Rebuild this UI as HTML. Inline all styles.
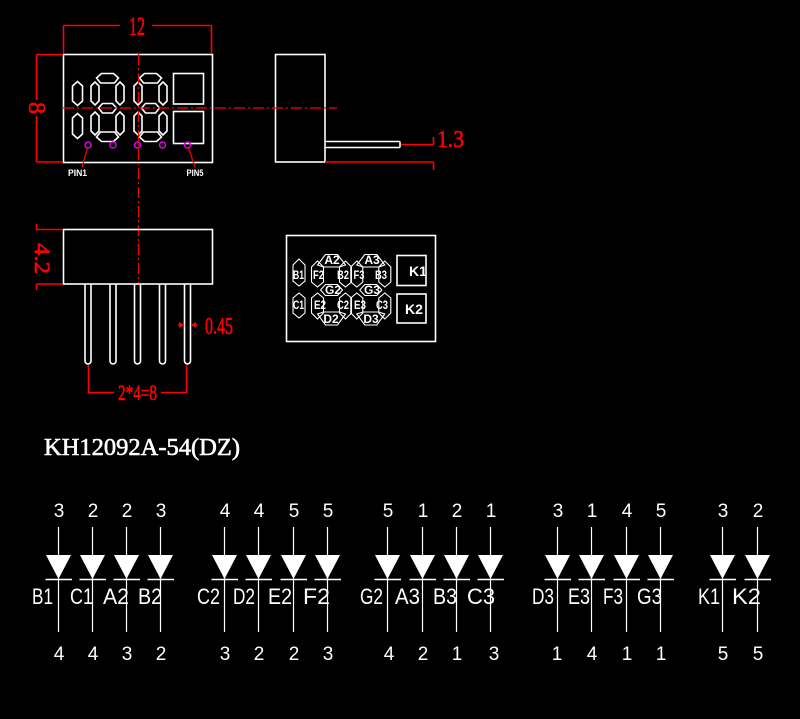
<!DOCTYPE html>
<html><head><meta charset="utf-8"><style>
html,body{margin:0;padding:0;background:#000;}
svg{display:block;}
</style></head><body>
<svg width="800" height="719" viewBox="0 0 800 719" xmlns="http://www.w3.org/2000/svg">
<rect x="0" y="0" width="800" height="719" fill="#000"/>

<!-- ===== TOP VIEW ===== -->
<g fill="none" stroke="#fff" stroke-width="1.6">
  <rect x="63.5" y="54.5" width="149" height="108"/>
  <polygon points="77.5,81.5 82.5,86 82.5,101 77.5,105.5 72.5,101 72.5,86"/>
  <polygon points="77.5,113.5 82.5,118 82.5,134 77.5,138.5 72.5,134 72.5,118"/>
  <g transform="translate(107.5,0)">
    <polygon points="-11,78 -6,73.5 6,73.5 11,78 7,83 -7,83"/>
    <polygon points="-12.5,82 -8.5,86 -8.5,101 -12.5,105 -16.5,101 -16.5,86"/>
    <polygon points="12.5,82 16.5,86 16.5,101 12.5,105 8.5,101 8.5,86"/>
    <polygon points="-9,108 -5,103.5 5,103.5 9,108 5,113 -5,113"/>
    <polygon points="-12.5,112 -8.5,116 -8.5,131 -12.5,135 -16.5,131 -16.5,116"/>
    <polygon points="12.5,112 16.5,116 16.5,131 12.5,135 8.5,131 8.5,116"/>
    <polygon points="-11,137 -7,132 7,132 11,137 6,141.5 -6,141.5"/>
  </g>
  <g transform="translate(150.5,0)">
    <polygon points="-11,78 -6,73.5 6,73.5 11,78 7,83 -7,83"/>
    <polygon points="-12.5,82 -8.5,86 -8.5,101 -12.5,105 -16.5,101 -16.5,86"/>
    <polygon points="12.5,82 16.5,86 16.5,101 12.5,105 8.5,101 8.5,86"/>
    <polygon points="-9,108 -5,103.5 5,103.5 9,108 5,113 -5,113"/>
    <polygon points="-12.5,112 -8.5,116 -8.5,131 -12.5,135 -16.5,131 -16.5,116"/>
    <polygon points="12.5,112 16.5,116 16.5,131 12.5,135 8.5,131 8.5,116"/>
    <polygon points="-11,137 -7,132 7,132 11,137 6,141.5 -6,141.5"/>
  </g>
  <rect x="173.5" y="73.5" width="30" height="30.5"/>
  <rect x="173.5" y="111.5" width="30" height="32"/>
</g>
<g fill="none" stroke="#e000e0" stroke-width="1.5">
  <circle cx="88" cy="145" r="3"/>
  <circle cx="113" cy="145" r="3"/>
  <circle cx="137.5" cy="145" r="3"/>
  <circle cx="162.5" cy="145" r="3"/>
  <circle cx="187.5" cy="145" r="3"/>
</g>
<g stroke="#f00" stroke-width="1.2">
  <line x1="87.5" y1="148" x2="82" y2="167"/>
  <line x1="188.5" y1="148" x2="195" y2="167"/>
</g>
<g fill="#fff" font-family="Liberation Sans, sans-serif" font-weight="bold" font-size="9">
  <text x="68" y="176" textLength="19" lengthAdjust="spacingAndGlyphs">PIN1</text>
  <text x="186.5" y="176" textLength="17" lengthAdjust="spacingAndGlyphs">PIN5</text>
</g>

<g stroke="#f00" stroke-width="1.6" fill="none">
  <line x1="63.5" y1="25.5" x2="63.5" y2="54"/>
  <line x1="211.5" y1="25.5" x2="211.5" y2="54"/>
  <line x1="63.5" y1="25.5" x2="120" y2="25.5"/>
  <line x1="152" y1="25.5" x2="211.5" y2="25.5"/>
  <line x1="36.5" y1="54.5" x2="63" y2="54.5"/>
  <line x1="36.5" y1="162" x2="63" y2="162"/>
  <line x1="36.5" y1="54.5" x2="36.5" y2="100"/>
  <line x1="36.5" y1="116" x2="36.5" y2="162"/>
</g>
<g fill="#f00" stroke="#f00" stroke-width="0.6" font-family="Liberation Serif, serif">
  <text x="129" y="35" font-size="26" textLength="16" lengthAdjust="spacingAndGlyphs">12</text>
  <text transform="translate(29,108) rotate(90)" x="0" y="0" font-size="24" text-anchor="middle">8</text>
</g>

<!-- ===== SIDE VIEW ===== -->
<g fill="none" stroke="#fff" stroke-width="1.6">
  <rect x="275.5" y="54.5" width="49.5" height="107.5"/>
  <line x1="325" y1="141.5" x2="400" y2="141.5"/>
  <line x1="325" y1="147.5" x2="400" y2="147.5"/>
  <line x1="400" y1="141.5" x2="400" y2="147.5"/>
</g>
<g stroke="#f00" stroke-width="1.6" fill="none">
  <line x1="401" y1="144.5" x2="433.5" y2="144.5"/>
  <line x1="433.5" y1="137" x2="433.5" y2="144.5"/>
  <line x1="325" y1="162" x2="433.5" y2="162"/>
  <line x1="433.5" y1="162" x2="433.5" y2="170"/>
</g>
<text x="437" y="147" fill="#f00" stroke="#f00" stroke-width="0.6" font-family="Liberation Serif, serif" font-size="24" textLength="27" lengthAdjust="spacingAndGlyphs">1.3</text>

<g stroke="#f00" stroke-width="1.3" fill="none" stroke-dasharray="11 3 2 3">
  <line x1="63" y1="108" x2="337" y2="108"/>
  <line x1="138.5" y1="54" x2="138.5" y2="285"/>
</g>

<!-- ===== BOTTOM VIEW ===== -->
<g fill="none" stroke="#fff" stroke-width="1.6">
  <rect x="63.5" y="229.5" width="149" height="54.5"/>
  <path d="M85,284 V361 A3,3 0 0 0 91,361 V284"/>
  <path d="M110,284 V361 A3,3 0 0 0 116,361 V284"/>
  <path d="M134.5,284 V361 A3,3 0 0 0 140.5,361 V284"/>
  <path d="M159.5,284 V361 A3,3 0 0 0 165.5,361 V284"/>
  <path d="M184.5,284 V361 A3,3 0 0 0 190.5,361 V284"/>
</g>
<g stroke="#f00" stroke-width="1.6" fill="none">
  <line x1="36.5" y1="229.5" x2="63" y2="229.5"/>
  <line x1="36.5" y1="284" x2="63" y2="284"/>
  <line x1="36.5" y1="224" x2="36.5" y2="230"/>
  <line x1="36.5" y1="284" x2="36.5" y2="290"/>
  <line x1="178" y1="325" x2="184" y2="325"/>
  <line x1="191" y1="325" x2="197" y2="325"/>
  <line x1="88.5" y1="365" x2="88.5" y2="393"/>
  <line x1="186.5" y1="365" x2="186.5" y2="393"/>
  <line x1="88.5" y1="392.5" x2="114" y2="392.5"/>
  <line x1="161" y1="392.5" x2="186.5" y2="392.5"/>
</g>
<g fill="#f00">
  <polygon points="184,325 179,322 179,328"/>
  <polygon points="191,325 196,322 196,328"/>
</g>
<g fill="#f00" stroke="#f00" stroke-width="0.6" font-family="Liberation Serif, serif">
  <text transform="translate(35,243) rotate(90)" x="0" y="0" font-size="22" textLength="31" lengthAdjust="spacingAndGlyphs">4.2</text>
  <text x="205" y="334" font-size="24" textLength="28" lengthAdjust="spacingAndGlyphs">0.45</text>
  <text x="118" y="400" font-size="22" textLength="39" lengthAdjust="spacingAndGlyphs">2*4=8</text>
</g>

<!-- ===== SEGMENT DIAGRAM ===== -->
<g fill="none" stroke="#fff" stroke-width="1.6">
  <rect x="286.5" y="235.5" width="149" height="106"/>
  <rect x="397" y="255.5" width="29" height="30"/>
  <rect x="397" y="294" width="29" height="29"/>
</g>
<g fill="none" stroke="#fff" stroke-width="1.1">
  <polygon points="299,259 305,265 305,281 299,286 293,281 293,265"/>
  <polygon points="299,293 305,298 305,313 299,318 293,313 293,298"/>
  <g transform="translate(331.5,0)">
    <polygon points="-14,265 -6,254.5 6,254.5 14,265 8,267 -8,267"/>
    <polygon points="-14,261 -8,267 -8,282 -14,287 -20,282 -20,267"/>
    <polygon points="14,261 20,267 20,282 14,287 8,282 8,267"/>
    <polygon points="-11,290 -6,284.5 6,284.5 11,290 6,295.5 -6,295.5"/>
    <polygon points="-14,293 -8,298 -8,313 -14,319 -20,313 -20,298"/>
    <polygon points="14,293 20,298 20,313 14,319 8,313 8,298"/>
    <polygon points="-14,314 -8,312 8,312 14,314 6,325 -6,325"/>
  </g>
  <g transform="translate(370.8,0)">
    <polygon points="-14,265 -6,254.5 6,254.5 14,265 8,267 -8,267"/>
    <polygon points="-14,261 -8,267 -8,282 -14,287 -20,282 -20,267"/>
    <polygon points="14,261 20,267 20,282 14,287 8,282 8,267"/>
    <polygon points="-11,290 -6,284.5 6,284.5 11,290 6,295.5 -6,295.5"/>
    <polygon points="-14,293 -8,298 -8,313 -14,319 -20,313 -20,298"/>
    <polygon points="14,293 20,298 20,313 14,319 8,313 8,298"/>
    <polygon points="-14,314 -8,312 8,312 14,314 6,325 -6,325"/>
  </g>
</g>
<g fill="#fff" font-family="Liberation Sans, sans-serif" font-weight="bold" font-size="12" text-anchor="middle">
  <text x="332" y="264">A2</text>
  <text x="372" y="264">A3</text>
  <text x="298.5" y="279" textLength="11" lengthAdjust="spacingAndGlyphs">B1</text>
  <text x="318.5" y="279" textLength="11" lengthAdjust="spacingAndGlyphs">F2</text>
  <text x="343" y="279" textLength="12" lengthAdjust="spacingAndGlyphs">B2</text>
  <text x="359" y="279" textLength="11" lengthAdjust="spacingAndGlyphs">F3</text>
  <text x="381" y="279" textLength="12" lengthAdjust="spacingAndGlyphs">B3</text>
  <text x="333" y="294">G2</text>
  <text x="372" y="294">G3</text>
  <text x="298.5" y="309" textLength="11" lengthAdjust="spacingAndGlyphs">C1</text>
  <text x="320" y="309" textLength="12" lengthAdjust="spacingAndGlyphs">E2</text>
  <text x="343" y="309" textLength="12" lengthAdjust="spacingAndGlyphs">C2</text>
  <text x="360" y="309" textLength="12" lengthAdjust="spacingAndGlyphs">E3</text>
  <text x="382" y="309" textLength="12" lengthAdjust="spacingAndGlyphs">C3</text>
  <text x="331" y="323">D2</text>
  <text x="371" y="323">D3</text>
</g>
<g fill="#fff" font-family="Liberation Sans, sans-serif" font-weight="bold" font-size="14">
  <text x="409" y="276">K1</text>
  <text x="405" y="314">K2</text>
</g>

<!-- ===== TITLE ===== -->
<text x="44" y="455" fill="#fff" stroke="#fff" stroke-width="0.6" font-family="Liberation Serif, serif" font-size="24" textLength="196" lengthAdjust="spacingAndGlyphs">KH12092A-54(DZ)</text>

<!-- ===== DIODES ===== -->
<g stroke="#fff" stroke-width="1.2">
  <line x1="58.5" y1="527" x2="58.5" y2="632"/>
  <line x1="92.5" y1="527" x2="92.5" y2="632"/>
  <line x1="126.5" y1="527" x2="126.5" y2="632"/>
  <line x1="160.5" y1="527" x2="160.5" y2="632"/>
  <line x1="224.5" y1="527" x2="224.5" y2="632"/>
  <line x1="258.5" y1="527" x2="258.5" y2="632"/>
  <line x1="293.5" y1="527" x2="293.5" y2="632"/>
  <line x1="327.5" y1="527" x2="327.5" y2="632"/>
  <line x1="387.5" y1="527" x2="387.5" y2="632"/>
  <line x1="422.5" y1="527" x2="422.5" y2="632"/>
  <line x1="456.5" y1="527" x2="456.5" y2="632"/>
  <line x1="490.5" y1="527" x2="490.5" y2="632"/>
  <line x1="557.5" y1="527" x2="557.5" y2="632"/>
  <line x1="591.5" y1="527" x2="591.5" y2="632"/>
  <line x1="626.5" y1="527" x2="626.5" y2="632"/>
  <line x1="660.5" y1="527" x2="660.5" y2="632"/>
  <line x1="722.5" y1="527" x2="722.5" y2="632"/>
  <line x1="757.5" y1="527" x2="757.5" y2="632"/>
</g>
<g fill="#fff">
  <polygon points="46,555 71,555 58.5,579"/>
  <polygon points="80,555 105,555 92.5,579"/>
  <polygon points="114,555 139,555 126.5,579"/>
  <polygon points="148,555 173,555 160.5,579"/>
  <polygon points="212,555 237,555 224.5,579"/>
  <polygon points="246,555 271,555 258.5,579"/>
  <polygon points="281,555 306,555 293.5,579"/>
  <polygon points="315,555 340,555 327.5,579"/>
  <polygon points="375,555 400,555 387.5,579"/>
  <polygon points="410,555 435,555 422.5,579"/>
  <polygon points="444,555 469,555 456.5,579"/>
  <polygon points="478,555 503,555 490.5,579"/>
  <polygon points="545,555 570,555 557.5,579"/>
  <polygon points="579,555 604,555 591.5,579"/>
  <polygon points="614,555 639,555 626.5,579"/>
  <polygon points="648,555 673,555 660.5,579"/>
  <polygon points="710,555 735,555 722.5,579"/>
  <polygon points="745,555 770,555 757.5,579"/>
</g>
<g stroke="#fff" stroke-width="1.5">
  <line x1="45.5" y1="579.5" x2="72" y2="579.5"/>
  <line x1="79.5" y1="579.5" x2="106" y2="579.5"/>
  <line x1="113.5" y1="579.5" x2="140" y2="579.5"/>
  <line x1="147.5" y1="579.5" x2="174" y2="579.5"/>
  <line x1="211.5" y1="579.5" x2="238" y2="579.5"/>
  <line x1="245.5" y1="579.5" x2="272" y2="579.5"/>
  <line x1="280.5" y1="579.5" x2="307" y2="579.5"/>
  <line x1="314.5" y1="579.5" x2="341" y2="579.5"/>
  <line x1="374.5" y1="579.5" x2="401" y2="579.5"/>
  <line x1="409.5" y1="579.5" x2="436" y2="579.5"/>
  <line x1="443.5" y1="579.5" x2="470" y2="579.5"/>
  <line x1="477.5" y1="579.5" x2="504" y2="579.5"/>
  <line x1="544.5" y1="579.5" x2="571" y2="579.5"/>
  <line x1="578.5" y1="579.5" x2="605" y2="579.5"/>
  <line x1="613.5" y1="579.5" x2="640" y2="579.5"/>
  <line x1="647.5" y1="579.5" x2="674" y2="579.5"/>
  <line x1="709.5" y1="579.5" x2="736" y2="579.5"/>
  <line x1="744.5" y1="579.5" x2="771" y2="579.5"/>
</g>
<g fill="#fff" font-family="Liberation Sans, sans-serif" font-size="19" text-anchor="middle">
  <text x="59" y="517">3</text><text x="93" y="517">2</text><text x="127" y="517">2</text><text x="161" y="517">3</text>
  <text x="225" y="517">4</text><text x="259" y="517">4</text><text x="294" y="517">5</text><text x="328" y="517">5</text>
  <text x="388" y="517">5</text><text x="423" y="517">1</text><text x="457" y="517">2</text><text x="491" y="517">1</text>
  <text x="558" y="517">3</text><text x="592" y="517">1</text><text x="627" y="517">4</text><text x="661" y="517">5</text>
  <text x="723" y="517">3</text><text x="758" y="517">2</text>
  <text x="59" y="660">4</text><text x="93" y="660">4</text><text x="127" y="660">3</text><text x="161" y="660">2</text>
  <text x="225" y="660">3</text><text x="259" y="660">2</text><text x="294" y="660">2</text><text x="328" y="660">3</text>
  <text x="389" y="660">4</text><text x="423" y="660">2</text><text x="457" y="660">1</text><text x="494" y="660">3</text>
  <text x="557" y="660">1</text><text x="592" y="660">4</text><text x="627" y="660">1</text><text x="661" y="660">1</text>
  <text x="723" y="660">5</text><text x="758" y="660">5</text>
</g>
<g fill="#fff" font-family="Liberation Sans, sans-serif" font-size="22">
  <text x="32" y="604" textLength="21" lengthAdjust="spacingAndGlyphs">B1</text>
  <text x="70" y="604" textLength="23" lengthAdjust="spacingAndGlyphs">C1</text>
  <text x="103" y="604" textLength="26" lengthAdjust="spacingAndGlyphs">A2</text>
  <text x="138" y="604" textLength="24" lengthAdjust="spacingAndGlyphs">B2</text>
  <text x="197" y="604" textLength="23" lengthAdjust="spacingAndGlyphs">C2</text>
  <text x="233" y="604" textLength="22" lengthAdjust="spacingAndGlyphs">D2</text>
  <text x="268" y="604" textLength="24" lengthAdjust="spacingAndGlyphs">E2</text>
  <text x="303" y="604" textLength="27" lengthAdjust="spacingAndGlyphs">F2</text>
  <text x="360" y="604" textLength="23" lengthAdjust="spacingAndGlyphs">G2</text>
  <text x="395" y="604" textLength="25" lengthAdjust="spacingAndGlyphs">A3</text>
  <text x="433" y="604" textLength="24" lengthAdjust="spacingAndGlyphs">B3</text>
  <text x="467" y="604" textLength="28" lengthAdjust="spacingAndGlyphs">C3</text>
  <text x="532" y="604" textLength="22" lengthAdjust="spacingAndGlyphs">D3</text>
  <text x="568" y="604" textLength="22" lengthAdjust="spacingAndGlyphs">E3</text>
  <text x="603" y="604" textLength="20" lengthAdjust="spacingAndGlyphs">F3</text>
  <text x="637" y="604" textLength="25" lengthAdjust="spacingAndGlyphs">G3</text>
  <text x="698" y="604" textLength="22" lengthAdjust="spacingAndGlyphs">K1</text>
  <text x="732" y="604" textLength="29" lengthAdjust="spacingAndGlyphs">K2</text>
</g>
</svg>
</body></html>
